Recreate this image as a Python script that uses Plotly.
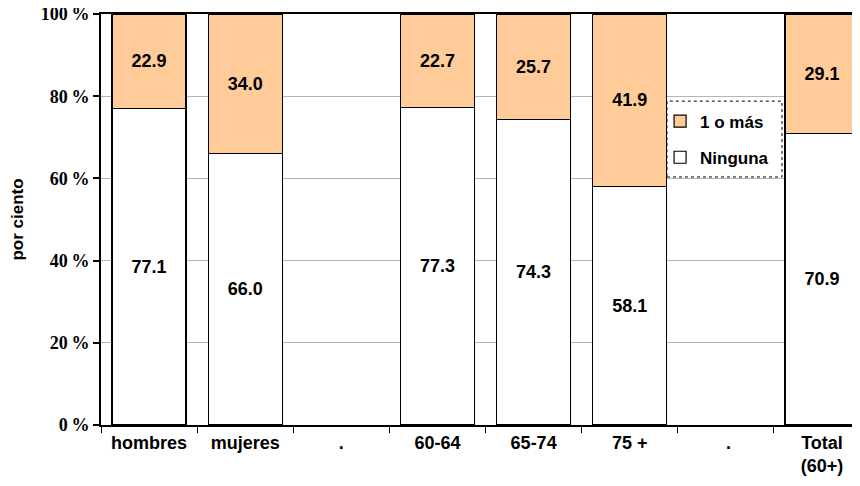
import plotly.graph_objects as go

categories = ["hombres", "mujeres", ".", "60-64", "65-74", "75 +", " .", "Total<br>(60+)"]
ninguna = [77.1, 66.0, None, 77.3, 74.3, 58.1, None, 70.9]
uno_o_mas = [22.9, 34.0, None, 22.7, 25.7, 41.9, None, 29.1]
y_ticks = [0, 20, 40, 60, 80, 100]
y_tick_labels = ["0\u2009%", "20\u2009%", "40\u2009%", "60\u2009%", "80\u2009%", "100\u2009%"]

ARIAL = "Liberation Sans, Arial"
TIMES = "Liberation Serif, Times New Roman"

def fmt(v):
    return "" if v is None else f"{v:.1f}"

fig = go.Figure()
fig.add_trace(go.Bar(
    x=categories, y=ninguna, name="Ninguna", legendrank=2, legendgroup="b",
    marker=dict(color="white", line=dict(color="black", width=1.2)),
    text=[fmt(v) for v in ninguna], textposition="inside", insidetextanchor="middle",
    textangle=0, textfont=dict(family=ARIAL, size=18, color="black", weight="bold"),
    width=0.77,
))
fig.add_trace(go.Bar(
    x=categories, y=uno_o_mas, name="1 o más", legendrank=1, legendgroup="a",
    marker=dict(color="#FFCC99", line=dict(color="black", width=1.2)),
    text=[fmt(v) for v in uno_o_mas], textposition="inside", insidetextanchor="middle",
    textangle=0, textfont=dict(family=ARIAL, size=18, color="black", weight="bold"),
    width=0.77,
))

fig.update_layout(
    barmode="stack",
    width=852, height=478,
    margin=dict(l=93, r=0, t=6, b=61),
    paper_bgcolor="white", plot_bgcolor="white",
    uniformtext=dict(mode="show", minsize=18),
    showlegend=True,
    legend=dict(
        x=0.7366, y=0.782, xanchor="left", yanchor="top",
        bgcolor="rgba(0,0,0,0)", traceorder="grouped", tracegroupgap=11,
        font=dict(family=ARIAL, size=17, color="black", weight="bold"),
        itemwidth=30,
    ),
    shapes=[dict(type="rect", xref="paper", yref="paper",
                 x0=0.7457, x1=0.8972, y0=0.6034, y1=0.788,
                 line=dict(color="black", width=1, dash="dot"), layer="above")],
    xaxis=dict(
        range=[-0.5, 7.395], showline=True, mirror=True, linecolor="black", linewidth=2,
        ticks="outside", tickson="boundaries", ticklen=6, tickcolor="black", tickwidth=1,
        showgrid=False, automargin=False,
        tickfont=dict(family=ARIAL, size=18, color="black", weight="bold"),
    ),
    yaxis=dict(
        range=[0, 100], tickvals=y_ticks, ticktext=y_tick_labels,
        showline=True, linecolor="black", linewidth=2, automargin=False,
        ticks="outside", ticklen=6, tickcolor="black", tickwidth=1.5,
        ticklabeloverflow="allow",
        showgrid=True, gridcolor="#b4b4b4", gridwidth=1,
        tickfont=dict(family=TIMES, size=18, color="black", weight="bold"),
        title=dict(text="por ciento", standoff=18,
                   font=dict(family=ARIAL, size=17, color="black", weight="bold")),
    ),
)

fig.write_html("out.html")
